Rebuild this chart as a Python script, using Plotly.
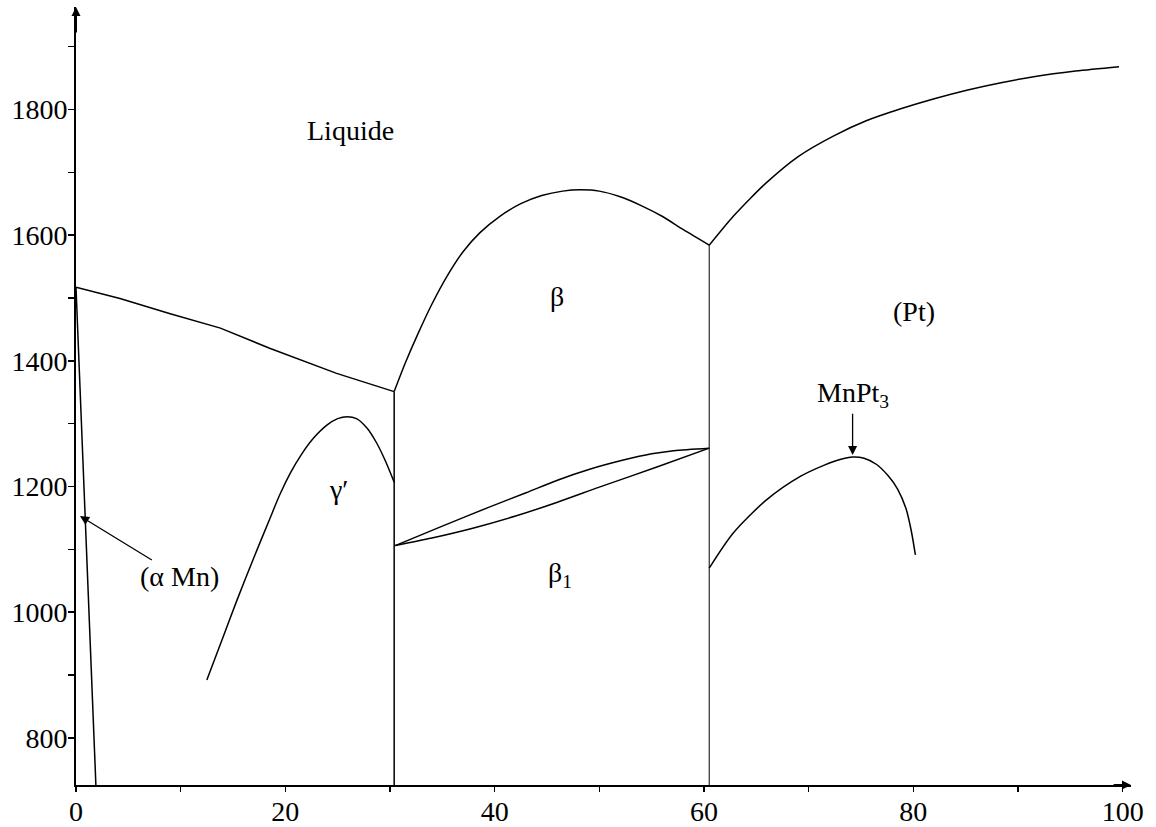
import plotly.graph_objects as go

# ---- data (Mn-Pt phase diagram: % Pt vs temperature) ----
liq_left_x = [0, 4.2, 9.0, 13.8, 18.5, 24.9, 30.4]
liq_left_y = [1517, 1499, 1475, 1452, 1420, 1380, 1351]

beta_dome_x = [30.4, 31.5, 32.7, 34.0, 35.5, 37.0, 38.6, 40.5, 42.5, 44.5,
               46.5, 48.2, 50.0, 52.0, 54.0, 56.0, 58.0, 60.5]
beta_dome_y = [1351, 1398, 1444, 1490, 1536, 1574, 1604, 1630, 1650, 1663,
               1670, 1672, 1670, 1661, 1647, 1630, 1609, 1584]

pt_liq_x = [60.5, 62.8, 64.4, 66.0, 69.0, 72.4, 75.5, 78.8, 82.0, 85.2,
            88.5, 91.5, 95.5, 99.65]
pt_liq_y = [1584, 1630, 1658, 1684, 1725, 1758, 1782, 1801, 1817, 1831,
            1843, 1852, 1861, 1868]

gamma_x = [12.5, 14.0, 15.4, 17.0, 18.5, 19.5, 20.5, 21.5, 22.7, 24.0, 25.0,
           25.9, 26.8, 27.8, 28.7, 29.5, 30.4]
gamma_y = [892, 958, 1020, 1087, 1148, 1188, 1222, 1250, 1277, 1298, 1308,
           1311, 1308, 1293, 1270, 1243, 1207]

lens_upper_x = [30.5, 35.0, 39.6, 43.0, 46.0, 49.0, 52.3, 55.0, 57.1, 60.5]
lens_upper_y = [1106, 1137, 1168, 1190, 1210, 1227, 1242, 1252, 1257, 1261]
lens_lower_x = [30.5, 34.0, 38.0, 42.0, 46.0, 50.0, 55.5, 60.5]
lens_lower_y = [1106, 1118, 1134, 1153, 1175, 1199, 1231, 1261]

mnpt3_x = [60.5, 62.8, 66.0, 69.2, 71.5, 73.0, 74.2, 75.3, 76.5, 77.6,
           78.5, 79.3, 79.8, 80.2]
mnpt3_y = [1070, 1126, 1179, 1216, 1234, 1243, 1247, 1245, 1235, 1217,
           1196, 1165, 1130, 1091]

alpha_mn_x = [0, 1.9]
alpha_mn_y = [1517, 725]

vline1_x = [30.4, 30.4]
vline1_y = [725, 1351]
vline2_x = [60.5, 60.5]
vline2_y = [725, 1584]

x_ticks = [0, 20, 40, 60, 80, 100]
y_ticks = [800, 1000, 1200, 1400, 1600, 1800]

FONT = "Liberation Serif, DejaVu Serif, serif"
X_RANGE = [0, 100.8]
Y_RANGE = [725, 1963]

fig = go.Figure()


def add_line(x, y, shape="linear", width=1.5):
    fig.add_trace(go.Scatter(x=x, y=y, mode="lines",
                             line=dict(color="black", width=width, shape=shape,
                                       smoothing=0.8),
                             hoverinfo="skip", showlegend=False))


add_line(liq_left_x, liq_left_y)
add_line(beta_dome_x, beta_dome_y, "spline")
add_line(pt_liq_x, pt_liq_y, "spline")
add_line(gamma_x, gamma_y, "spline")
add_line(lens_upper_x, lens_upper_y, "spline")
add_line(lens_lower_x, lens_lower_y, "spline")
add_line(mnpt3_x, mnpt3_y, "spline")
add_line(alpha_mn_x, alpha_mn_y)
add_line(vline1_x, vline1_y, width=1.5)
add_line(vline2_x, vline2_y, width=1.0)

TXT = dict(family=FONT, size=28, color="black")

labels = [
    ("Liquide", 26.2, 1766),
    ("β", 46.0, 1503),
    ("(Pt)", 80.1, 1479),
    ("γ′", 25.1, 1196),
    ("β<sub>1</sub>", 46.2, 1060),
]
for txt, x, y in labels:
    fig.add_annotation(x=x, y=y, text=txt, showarrow=False, font=TXT)

# labels with pointer arrows (text at tail, arrow tip on the curve)
fig.add_annotation(x=74.2, y=1250, ax=74.2, ay=1346, xref="x", yref="y",
                   axref="x", ayref="y", text="MnPt<sub>3</sub>", font=TXT,
                   showarrow=True, arrowhead=2, arrowsize=1.4, arrowwidth=1.3,
                   arrowcolor="black", standoff=0, startstandoff=0)
fig.add_annotation(x=0.38, y=1153, ax=9.9, ay=1056, xref="x", yref="y",
                   axref="x", ayref="y", text="(α Mn)", font=TXT,
                   showarrow=True, arrowhead=2, arrowsize=1.4, arrowwidth=1.3,
                   arrowcolor="black", standoff=0, startstandoff=0)

# axis arrow heads
for x, y, ax, ay in [(100.8, 725, 99.0, 725), (0, 1963, 0, 1920)]:
    fig.add_annotation(x=x, y=y, ax=ax, ay=ay, xref="x", yref="y",
                       axref="x", ayref="y", text="", showarrow=True,
                       arrowhead=2, arrowsize=0.9, arrowwidth=2,
                       arrowcolor="black", standoff=0)

fig.update_xaxes(range=X_RANGE, showgrid=False, zeroline=False, automargin=False,
                 showline=True, linecolor="black", linewidth=2,
                 ticks="outside", ticklen=5, tickwidth=1.5, tickcolor="black",
                 tickvals=x_ticks, ticktext=[str(v) for v in x_ticks],
                 ticklabelstandoff=-5,
                 minor=dict(dtick=10, tick0=0, ticks="outside", ticklen=5,
                            tickwidth=1.5, tickcolor="black", showgrid=False),
                 tickfont=dict(family=FONT, size=28, color="black"))
fig.update_yaxes(range=Y_RANGE, showgrid=False, zeroline=False, automargin=False,
                 showline=True, linecolor="black", linewidth=2,
                 ticks="outside", ticklen=6, tickwidth=1.5, tickcolor="black",
                 tickvals=y_ticks, ticktext=[str(v) for v in y_ticks],
                 ticklabelstandoff=-5,
                 minor=dict(dtick=100, tick0=0, ticks="outside", ticklen=6,
                            tickwidth=1.5, tickcolor="black", showgrid=False),
                 tickfont=dict(family=FONT, size=28, color="black"))

fig.update_layout(width=1156, height=827,
                  margin=dict(l=76, r=25, t=7, b=42),
                  font=dict(family=FONT, color="black"),
                  plot_bgcolor="white", paper_bgcolor="white",
                  showlegend=False)

fig.write_html("out.html",
               config={"displayModeBar": False, "staticPlot": True},
               post_script="document.body.style.margin='0';"
                           "document.body.style.overflow='hidden';")
